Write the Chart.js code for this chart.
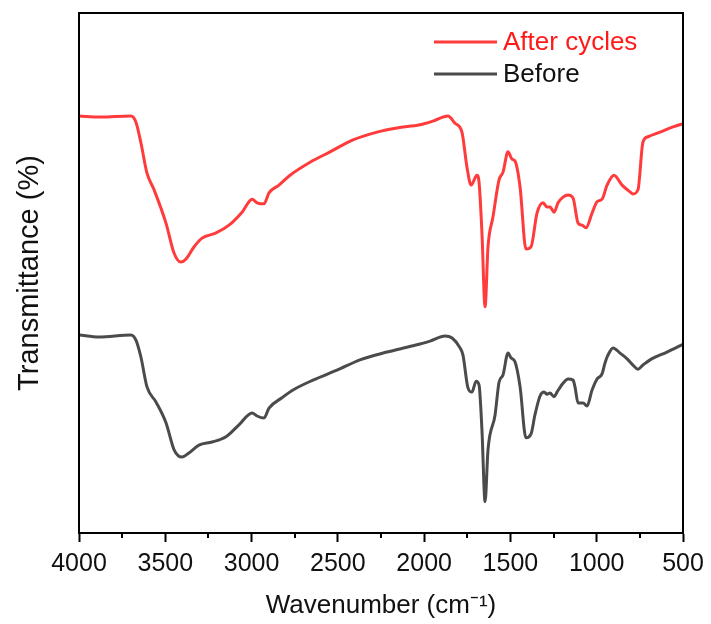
<!DOCTYPE html>
<html>
<head>
<meta charset="utf-8">
<script src="https://cdn.jsdelivr.net/npm/chart.js@4/dist/chart.umd.min.js"></script>
<style>
  html,body{ margin:0; padding:0; background:#fff; }
  #wrap{ width:711px; height:624px; position:relative; }
</style>
</head>
<body>
<div id="wrap"><canvas id="ftir"></canvas></div>
<script>
// FTIR spectra, before / after cycles (y = transmittance, arbitrary offset units)
const afterWn = [4000,3878,3699,3670,3641,3606,3565,3496,3449,3409,3380,3334,3287,3206,3131,3055,2997,2968,2928,2899,2841,2777,2661,2545,2412,2273,2157,2024,1949,1862,1821,1781,1752,1728,1694,1682,1665,1647,1630,1601,1566,1543,1514,1491,1473,1444,1410,1381,1346,1311,1288,1271,1247,1224,1195,1166,1137,1108,1085,1062,1027,998,969,940,900,853,807,790,761,732,703,633,558,500];
const afterT  = [80.2,80.0,80.2,79.0,75.0,69.2,66.0,59.6,53.8,52.1,52.7,55.0,56.7,57.7,59.2,61.7,64.2,63.5,63.3,65.4,66.9,68.8,71.3,73.3,75.6,77.1,77.9,78.5,79.2,80.2,78.8,77.1,70.4,66.9,68.8,67.5,57.7,43.5,55.0,60.8,67.9,69.4,73.3,71.9,71.5,66.5,54.6,55.0,61.5,63.5,62.7,62.7,61.7,63.5,64.6,65.0,64.4,59.6,59.2,58.7,61.5,63.7,64.2,66.9,68.8,66.9,65.6,65.2,66.0,75.2,76.2,77.1,78.1,78.7];

const beforeWn = [4000,3884,3699,3670,3641,3606,3554,3496,3449,3403,3363,3305,3229,3148,3073,2997,2968,2928,2899,2824,2760,2644,2505,2372,2215,2065,1966,1879,1838,1792,1775,1746,1723,1699,1682,1665,1647,1630,1589,1566,1543,1514,1497,1473,1444,1410,1381,1358,1329,1305,1288,1271,1247,1230,1195,1166,1137,1126,1108,1079,1056,1027,998,969,952,935,905,865,824,790,761,732,691,593,500];
const beforeT  = [38.1,37.7,38.1,37.1,33.8,28.1,25.2,21.2,16.0,14.6,15.4,16.9,17.5,18.5,20.8,23.1,22.5,22.1,24.0,26.0,27.5,29.4,31.3,33.3,34.8,36.0,36.9,37.9,37.5,35.6,34.2,27.9,27.1,29.2,28.5,19.8,6.0,16.0,22.7,29.0,30.4,34.6,33.7,32.9,28.1,18.3,19.0,22.7,26.3,27.1,26.7,26.9,26.2,27.1,28.8,29.6,29.4,28.1,25.0,25.0,24.4,27.5,29.6,30.6,32.7,34.2,35.6,34.6,33.5,32.3,31.5,32.3,33.3,34.8,36.3];

const xMajorTicks = [4000,3500,3000,2500,2000,1500,1000,500];
const xMinorTicks = [3750,3250,2750,2250,1750,1250,750];

const seriesLabels = ['After cycles','Before'];
const seriesColors = ['#ff3b3b','#4b4b4b'];
const legendTextColors = ['#ff1a1a','#111111'];

const FONT = '"Liberation Sans", Arial, sans-serif';
const toXY = (xs, ys) => xs.map((x,i)=>({x, y:ys[i]}));

// box + minor ticks + in-plot legend
const decor = {
  id:'decor',
  afterDraw(chart){
    const {ctx, chartArea:a, scales:{x}} = chart;
    ctx.save();
    ctx.strokeStyle = '#000'; ctx.lineWidth = 2;
    ctx.strokeRect(a.left, a.top, a.right-a.left, a.bottom-a.top);
    // minor ticks, shorter than major
    ctx.beginPath();
    for(const v of xMinorTicks){
      const px = Math.round(x.getPixelForValue(v));
      ctx.moveTo(px, a.bottom); ctx.lineTo(px, a.bottom+5);
    }
    ctx.stroke();
    // legend
    ctx.font = `26px ${FONT}`;
    ctx.textBaseline = 'middle';
    const lx0 = 434, lx1 = 497, ly = [42, 74];
    chart.data.datasets.forEach((ds,i)=>{
      ctx.strokeStyle = ds.borderColor; ctx.lineWidth = 3;
      ctx.beginPath(); ctx.moveTo(lx0, ly[i]); ctx.lineTo(lx1, ly[i]); ctx.stroke();
      ctx.fillStyle = legendTextColors[i];
      ctx.fillText(ds.label, 503, ly[i]+1);
    });
    ctx.restore();
  }
};

new Chart(document.getElementById('ftir'), {
  type:'line',
  data:{
    datasets:[
      { label:seriesLabels[0], data:toXY(afterWn, afterT),   borderColor:seriesColors[0], borderWidth:3, pointRadius:0, cubicInterpolationMode:'monotone' },
      { label:seriesLabels[1], data:toXY(beforeWn, beforeT), borderColor:seriesColors[1], borderWidth:3, pointRadius:0, cubicInterpolationMode:'monotone' }
    ]
  },
  options:{
    responsive:true, maintainAspectRatio:false, animation:false,
    layout:{ padding:{ top:13, right:28, left:0, bottom:0 } },
    plugins:{ legend:{ display:false }, tooltip:{ enabled:false } },
    scales:{
      x:{
        type:'linear', min:500, max:4000, reverse:true,
        afterBuildTicks: s => { s.ticks = xMajorTicks.map(v=>({value:v})); },
        afterFit: s => { s.height = 91; },
        grid:{ drawOnChartArea:false, tickLength:9, tickWidth:2, tickColor:'#000' },
        border:{ color:'#000', width:2 },
        ticks:{ color:'#111', font:{ family:FONT, size:25 }, padding:7, maxRotation:0, autoSkip:false, callback: v => String(v) },
        title:{ display:true, text:'Wavenumber (cm⁻¹)', color:'#111', font:{ family:FONT, size:26 }, padding:{ top:0, bottom:3 } }
      },
      y:{
        min:0, max:100,
        afterFit: s => { s.width = 79; },
        grid:{ display:false },
        border:{ color:'#000', width:2 },
        ticks:{ display:false },
        title:{ display:true, text:'Transmittance (%)', color:'#111', font:{ family:FONT, size:29 }, padding:{ top:13, bottom:0 } }
      }
    }
  },
  plugins:[decor]
});
</script>
</body>
</html>
